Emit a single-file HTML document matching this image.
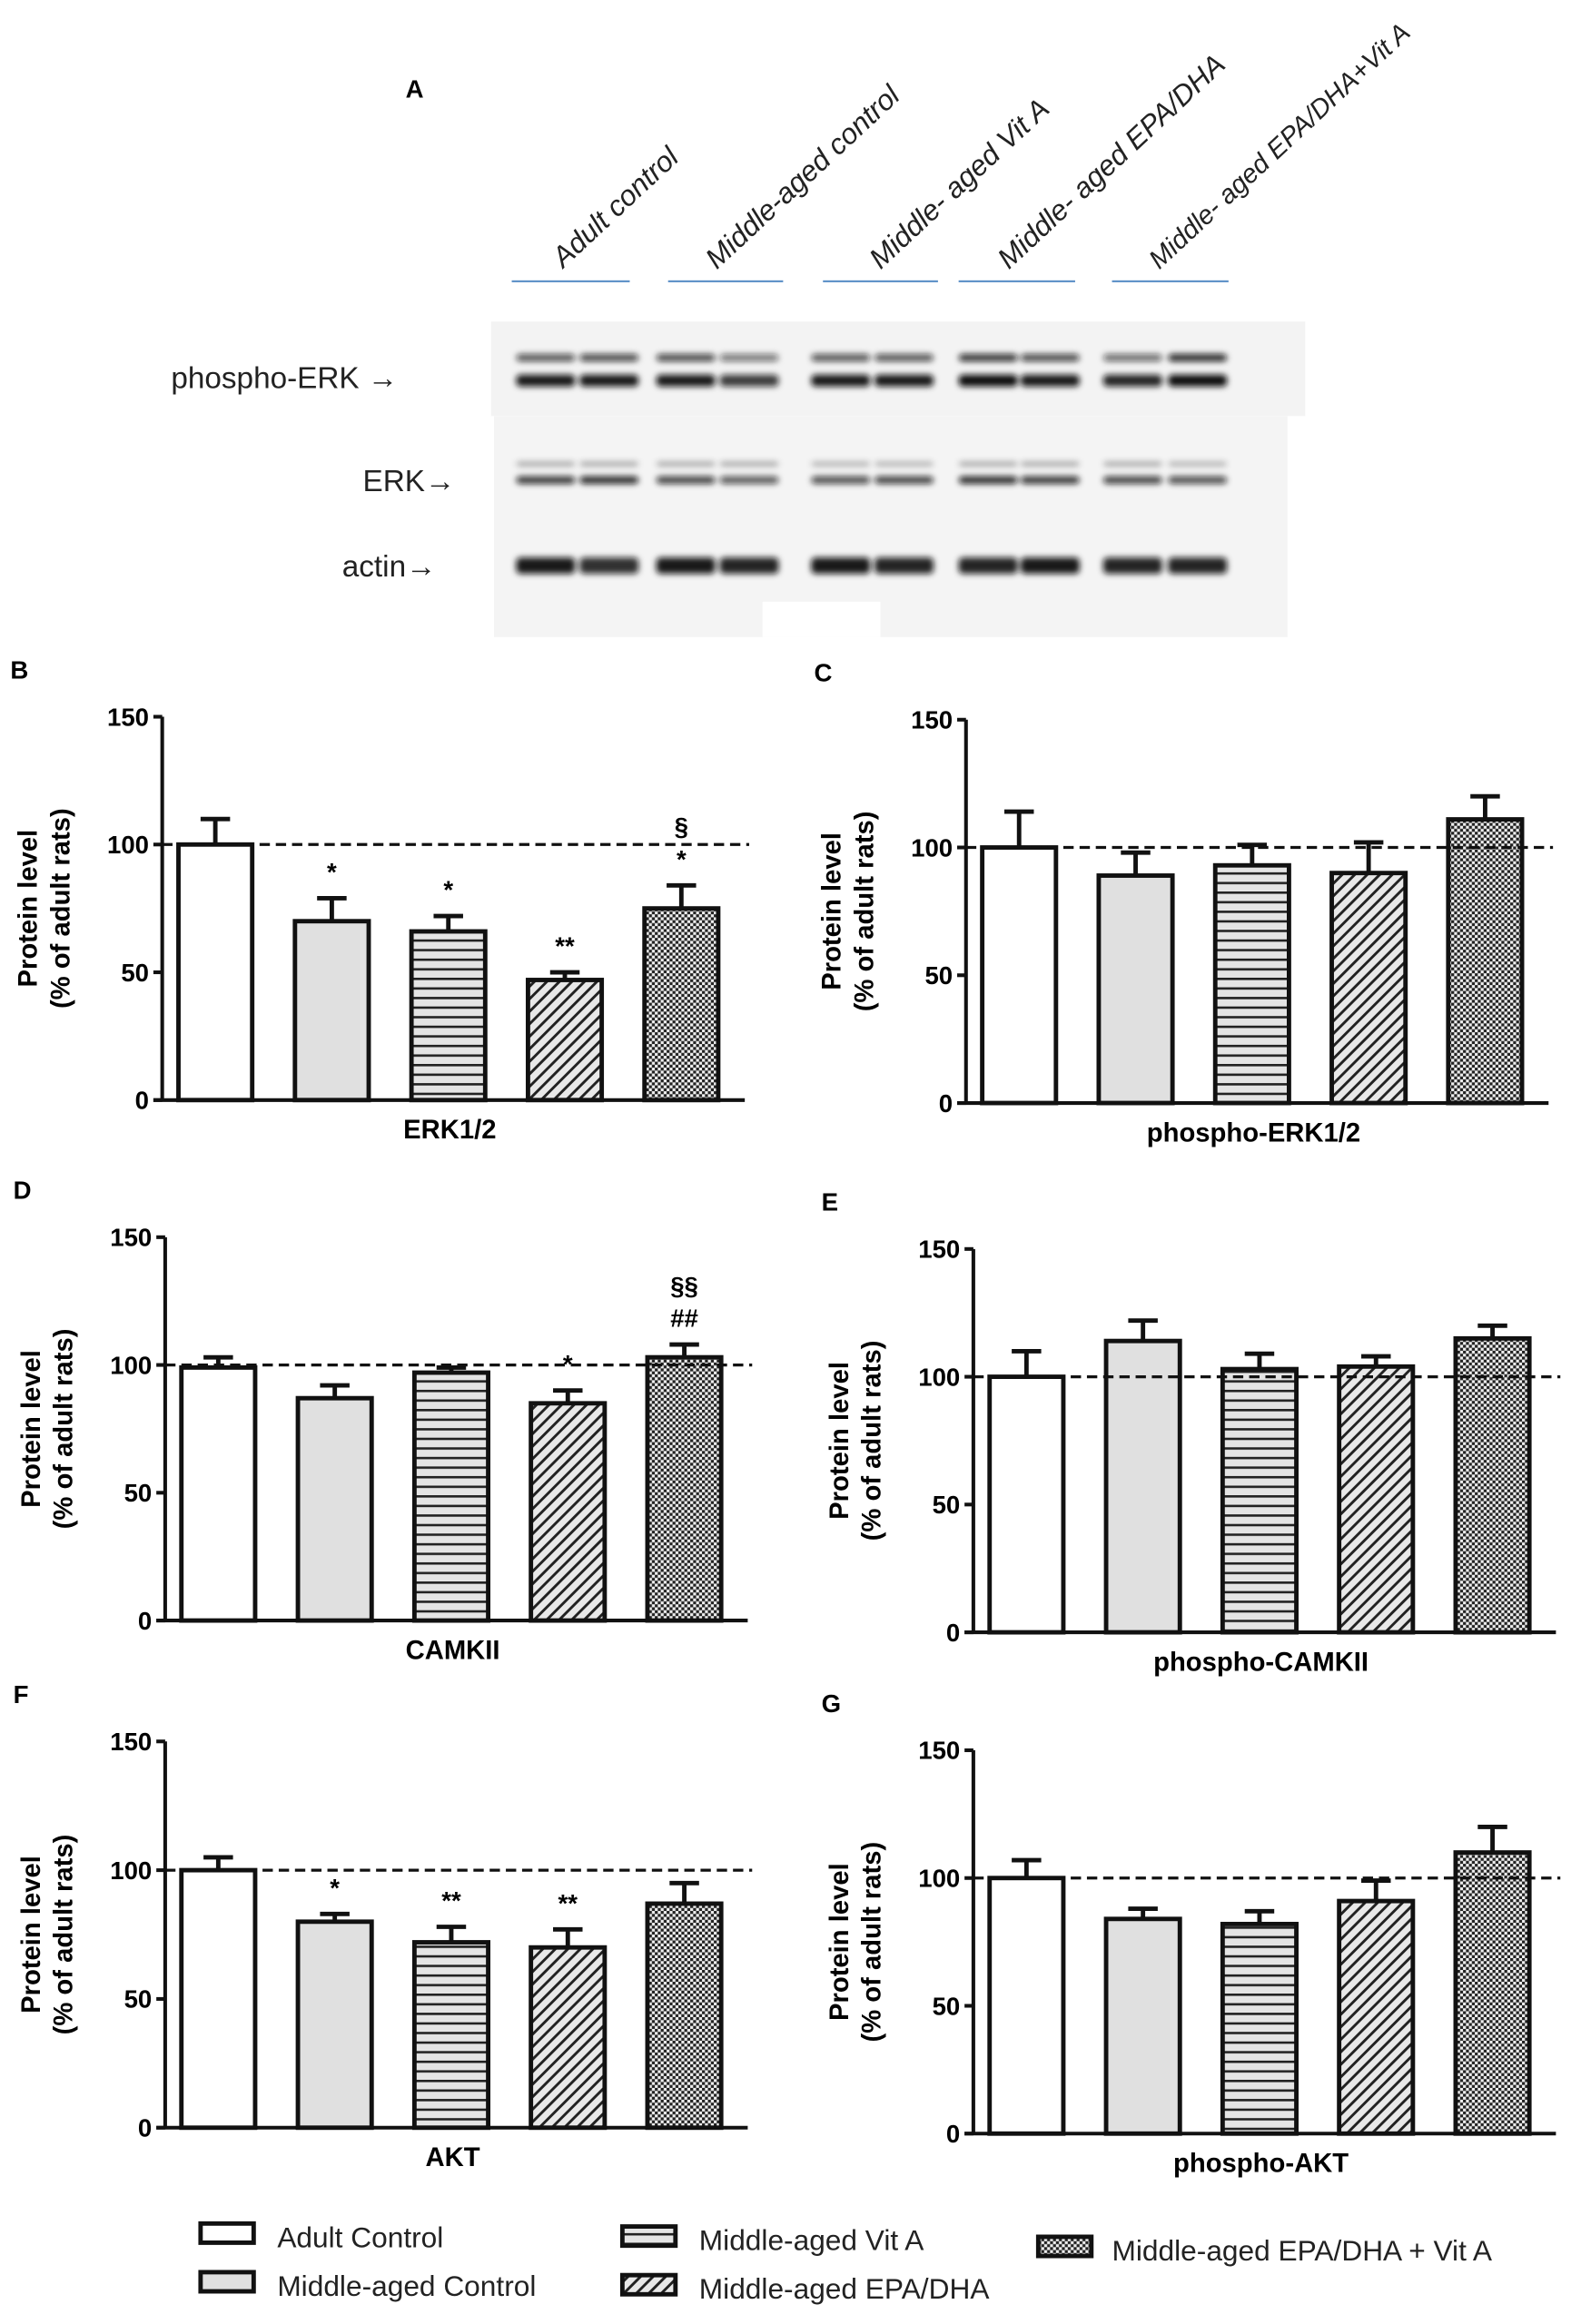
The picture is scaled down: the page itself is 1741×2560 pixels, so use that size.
<!DOCTYPE html>
<html><head><meta charset="utf-8"><style>
html,body{margin:0;padding:0;background:#fff;}
svg{display:block;font-family:"Liberation Sans",Arial,sans-serif;}
.tk{font-weight:bold;font-size:17px;}
.ttl{font-weight:bold;font-size:18px;}
.pl{font-weight:bold;font-size:17px;}
.lg{font-size:19.5px;}
</style></head><body>
<svg id="fig" width="1741" height="2560" viewBox="0 0 1072 1576">
<defs>
<pattern id="pHor" width="6" height="6.5" patternUnits="userSpaceOnUse"><rect width="6" height="6.5" fill="#e4e4e4"/><rect y="0" width="6" height="1.6" fill="#222"/></pattern>
<pattern id="pDiag" width="6" height="6" patternUnits="userSpaceOnUse" patternTransform="rotate(45)"><rect width="6" height="6" fill="#e8e8e8"/><rect width="1.8" height="6" fill="#222"/></pattern>
<pattern id="pChk" width="4" height="4" patternUnits="userSpaceOnUse"><rect width="4" height="4" fill="#eee"/><rect width="2" height="2" fill="#222"/><rect x="2" y="2" width="2" height="2" fill="#222"/></pattern>
<filter id="blur"><feGaussianBlur stdDeviation="2.2"/></filter>
</defs>

<g>
<text x="275" y="66" class="pl">A</text>
<rect x="333" y="218" width="552" height="64" fill="#f3f3f3"/>
<rect x="335" y="282" width="538" height="150" fill="#f4f4f4"/>
<rect x="517" y="408" width="80" height="24" fill="#fff"/>
<g id="bands" filter="url(#blur)"></g>
<g fill="#5b8fc7">
<rect x="347" y="190" width="80" height="1.3"/><rect x="453" y="190" width="78" height="1.3"/><rect x="558" y="190" width="78" height="1.3"/><rect x="650" y="190" width="79" height="1.3"/><rect x="754" y="190" width="79" height="1.3"/>
</g>
<g font-style="italic" font-size="19.5" fill="#222">
<text transform="translate(382,182) rotate(-43)">Adult control</text>
<text transform="translate(486,183) rotate(-43)">Middle-aged control</text>
<text transform="translate(597,183) rotate(-43)">Middle- aged Vit A</text>
<text transform="translate(684,183) rotate(-43)">Middle- aged EPA/DHA</text>
<text transform="translate(786,183) rotate(-43)" font-size="18">Middle- aged EPA/DHA+Vit A</text>
</g>
<g font-size="20.5" fill="#222">
<text x="116" y="263">phospho-ERK →</text>
<text x="246" y="333">ERK→</text>
<text x="232" y="391">actin→</text>
</g>
</g>

<g id="charts"></g>

<g class="lg" fill="#222">
<g><rect x="136" y="1508" width="36" height="13" fill="#fff" stroke="#111" stroke-width="3"/><text x="188" y="1524">Adult Control</text></g>
<g><rect x="136" y="1541" width="36" height="13" fill="#e0e0e0" stroke="#111" stroke-width="3"/><text x="188" y="1557">Middle-aged Control</text></g>
<g><rect x="422" y="1510" width="36" height="13" fill="url(#pHor)" stroke="#111" stroke-width="3"/><text x="474" y="1526">Middle-aged Vit A</text></g>
<g><rect x="422" y="1543" width="36" height="13" fill="url(#pDiag)" stroke="#111" stroke-width="3"/><text x="474" y="1559">Middle-aged EPA/DHA</text></g>
<g><rect x="704" y="1517" width="36" height="13" fill="url(#pChk)" stroke="#111" stroke-width="3"/><text x="754" y="1533">Middle-aged EPA/DHA + Vit A</text></g>
</g>
</svg>
<script>
const laneX=[370,413,465,508,570,613,670,712,768,812];
const pErkUpper=[0.7,0.75,0.75,0.55,0.7,0.7,0.85,0.75,0.6,0.9];
const pErkLower=[0.95,0.95,0.95,0.8,0.95,0.95,1,0.95,0.9,1];
const erkUpper=[0.35,0.35,0.35,0.35,0.3,0.3,0.35,0.35,0.35,0.3];
const erkLower=[0.85,0.9,0.8,0.7,0.75,0.8,0.9,0.85,0.8,0.75];
const actinBand=[0.95,0.85,0.95,0.9,0.95,0.9,0.9,0.95,0.9,0.9];
const NS='http://www.w3.org/2000/svg';
function mk(t,a,p){const e=document.createElementNS(NS,t);for(const k in a)e.setAttribute(k,a[k]);p.appendChild(e);return e;}
const bands=document.getElementById('bands');
function drawBands(arr,y,h,name){arr.forEach((v,i)=>{const r=mk('rect',{x:laneX[i]-20,y:y,width:40,height:h,rx:3,fill:'#111','fill-opacity':v},bands);

});}
drawBands(pErkUpper,240,5,'phospho-erk-upper-band');
drawBands(pErkLower,254,8,'phospho-erk-lower-band');
drawBands(erkUpper,313,3,'erk-upper-band');
drawBands(erkLower,323,5,'erk-lower-band');
drawBands(actinBand,378,11,'actin-band');

const groups=['Adult Control','Middle-aged Control','Middle-aged Vit A','Middle-aged EPA/DHA','Middle-aged EPA/DHA + Vit A'];
const yTicks=[0,50,100,150];
const erkMean=[100,70,66,47,75];      const erkErr=[10,9,6,3,9];
const pErkMean=[100,89,93,90,111];    const pErkErr=[14,9,8,12,9];
const camMean=[99,87,97,85,103];      const camErr=[4,5,2,5,5];
const pCamMean=[100,114,103,104,115]; const pCamErr=[10,8,6,4,5];
const aktMean=[100,80,72,70,87];      const aktErr=[5,3,6,7,8];
const pAktMean=[100,84,82,91,110];    const pAktErr=[7,4,5,8,10];
const erkSig=['','*','*','**','*\n§'];
const camSig=['','','','*','##\n§§'];
const aktSig=['','*','**','**',''];
const none=['','','','',''];
const fills=['#fff','#e0e0e0','url(#pHor)','url(#pDiag)','url(#pChk)'];
const panels=[
 {id:'b',label:'B',title:'ERK1/2',ax:110,top:486,bot:746,m:erkMean,e:erkErr,s:erkSig},
 {id:'c',label:'C',title:'phospho-ERK1/2',ax:655,top:488,bot:748,m:pErkMean,e:pErkErr,s:none},
 {id:'d',label:'D',title:'CAMKII',ax:112,top:839,bot:1099,m:camMean,e:camErr,s:camSig},
 {id:'e',label:'E',title:'phospho-CAMKII',ax:660,top:847,bot:1107,m:pCamMean,e:pCamErr,s:none},
 {id:'f',label:'F',title:'AKT',ax:112,top:1181,bot:1443,m:aktMean,e:aktErr,s:aktSig},
 {id:'g',label:'G',title:'phospho-AKT',ax:660,top:1187,bot:1447,m:pAktMean,e:pAktErr,s:none}
];
const charts=document.getElementById('charts');
panels.forEach(p=>{
 const g=mk('g',{},charts);
 
 
 const y=v=>p.bot-(v/150)*(p.bot-p.top);
 const xc=i=>p.ax+36+i*79;
 const lab=mk('text',{x:p.ax-103,y:p.top-26,class:'pl'},g);lab.textContent=p.label;
 
 
 const ya=mk('line',{x1:p.ax,y1:p.top,x2:p.ax,y2:p.bot,stroke:'#111','stroke-width':2.5},g);
 
 
 const xa=mk('line',{x1:p.ax-6,y1:p.bot,x2:p.ax+395,y2:p.bot,stroke:'#111','stroke-width':2.5},g);
 
 
 yTicks.forEach(t=>{
  mk('line',{x1:p.ax-6,y1:y(t),x2:p.ax,y2:y(t),stroke:'#111','stroke-width':2.5},g);
  const tl=mk('text',{x:p.ax-9,y:y(t)+6,'text-anchor':'end',class:'tk'},g);tl.textContent=t;
  
  
 });
 const tt=mk('text',{transform:`translate(${p.ax-85},${(p.top+p.bot)/2}) rotate(-90)`,'text-anchor':'middle',class:'ttl'},g);
 
 
 const t1=mk('tspan',{x:0,dy:0},tt);t1.textContent='Protein level';
 const t2=mk('tspan',{x:0,dy:22},tt);t2.textContent='(% of adult rats)';
 const xt=mk('text',{x:p.ax+195,y:p.bot+26,'text-anchor':'middle',class:'ttl'},g);xt.textContent=p.title;
 
 
 p.m.forEach((v,i)=>{
  const cx=xc(i),w=50;
  const eb=mk('path',{d:`M${cx} ${y(v)} V${y(v+p.e[i])} M${cx-10} ${y(v+p.e[i])} H${cx+10}`,stroke:'#111','stroke-width':3,fill:'none'},g);
  
  
  const b=mk('rect',{x:cx-w/2,y:y(v),width:w,height:p.bot-y(v),fill:fills[i],stroke:'#111','stroke-width':3},g);
  
  
  if(p.s[i]){
   const lines=p.s[i].split('\n');
   lines.forEach((s,k)=>{
    const st=mk('text',{x:cx,y:y(v+p.e[i])-12-k*22,'text-anchor':'middle',class:'tk','font-size':'19'},g);st.textContent=s;
    
    
   });
  }
 });
 const dl=mk('line',{x1:p.ax,y1:y(100),x2:p.ax+398,y2:y(100),stroke:'#111','stroke-width':2,'stroke-dasharray':'7,4'},g);
 
 
});
</script>
</body></html>
